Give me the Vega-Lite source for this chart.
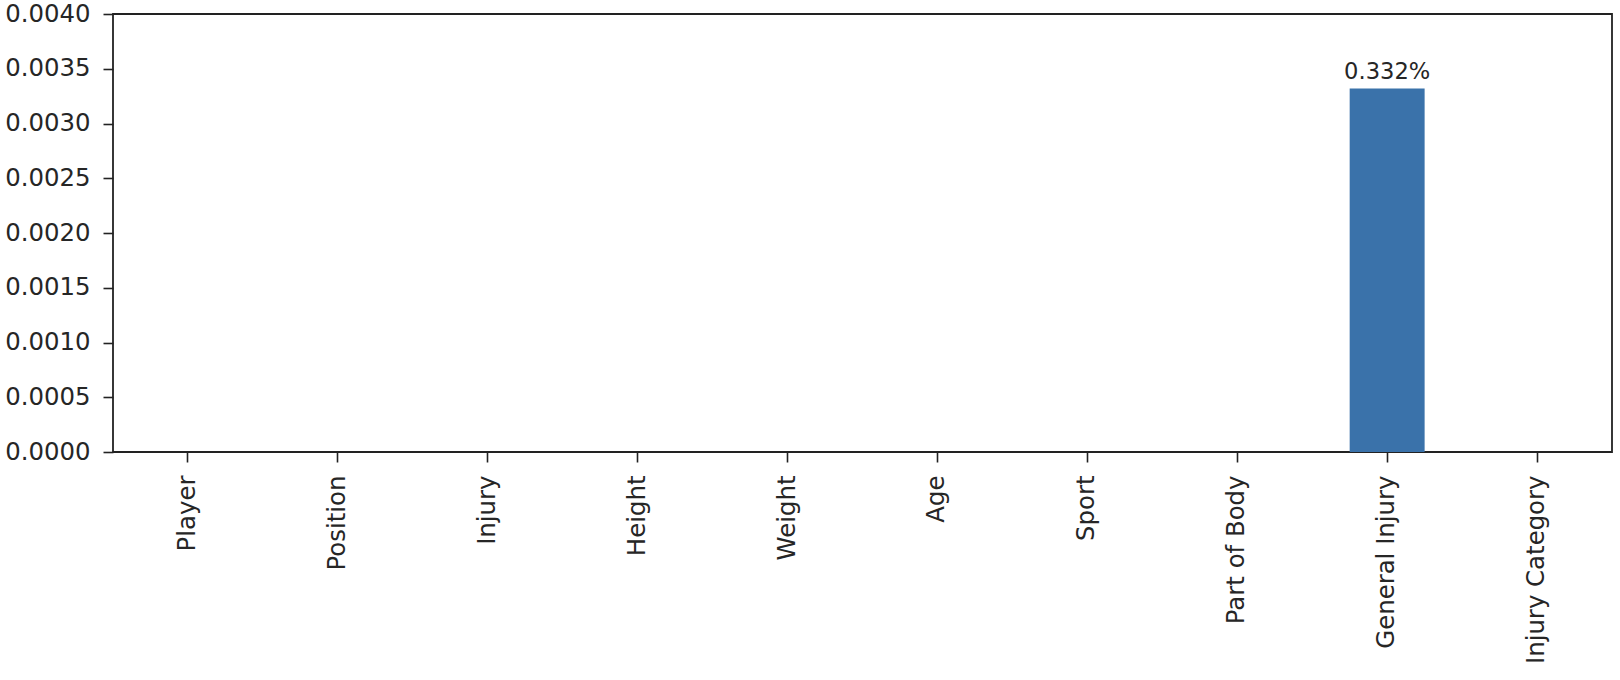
{
  "$schema": "https://vega.github.io/schema/vega-lite/v6.json",
  "width": 1499,
  "height": 438,
  "autosize": {"type": "none"},
  "padding": {"left": 113, "top": 14, "right": 8, "bottom": 228},
  "background": "white",
  "config": {
    "font": "DejaVu Sans",
    "view": {"stroke": "#222222", "strokeWidth": 1.8},
    "axis": {
      "labelFont": "DejaVu Sans",
      "labelFontSize": 24.4,
      "labelColor": "#262626",
      "labelLimit": 400,
      "domainColor": "#222222",
      "tickColor": "#222222",
      "tickSize": 10,
      "tickWidth": 1.6,
      "grid": false,
      "title": null
    }
  },
  "data": {
    "values": [
      {"feature": "Player", "value": 0},
      {"feature": "Position", "value": 0},
      {"feature": "Injury", "value": 0},
      {"feature": "Height", "value": 0},
      {"feature": "Weight", "value": 0},
      {"feature": "Age", "value": 0},
      {"feature": "Sport", "value": 0},
      {"feature": "Part of Body", "value": 0},
      {"feature": "General Injury", "value": 0.00332},
      {"feature": "Injury Category", "value": 0}
    ]
  },
  "encoding": {
    "x": {
      "field": "feature",
      "type": "nominal",
      "sort": null,
      "scale": {"paddingInner": 0.5, "paddingOuter": 0.25},
      "axis": {"labelAngle": -90, "labelPadding": 13, "labelLimit": 400, "domain": false}
    },
    "y": {
      "field": "value",
      "type": "quantitative",
      "scale": {"domain": [0, 0.004], "nice": false, "zero": true},
      "axis": {
        "values": [0, 0.0005, 0.001, 0.0015, 0.002, 0.0025, 0.003, 0.0035, 0.004],
        "format": ".4f",
        "labelPadding": 13,
        "domain": false
      }
    }
  },
  "layer": [
    {"mark": {"type": "bar", "color": "#3a72aa"}},
    {
      "transform": [{"filter": "datum.value > 0"}],
      "mark": {"type": "text", "baseline": "alphabetic", "dy": -9.5, "fontSize": 22.6, "color": "#262626", "font": "DejaVu Sans"},
      "encoding": {"text": {"field": "value", "type": "quantitative", "format": ".3%"}}
    }
  ]
}
